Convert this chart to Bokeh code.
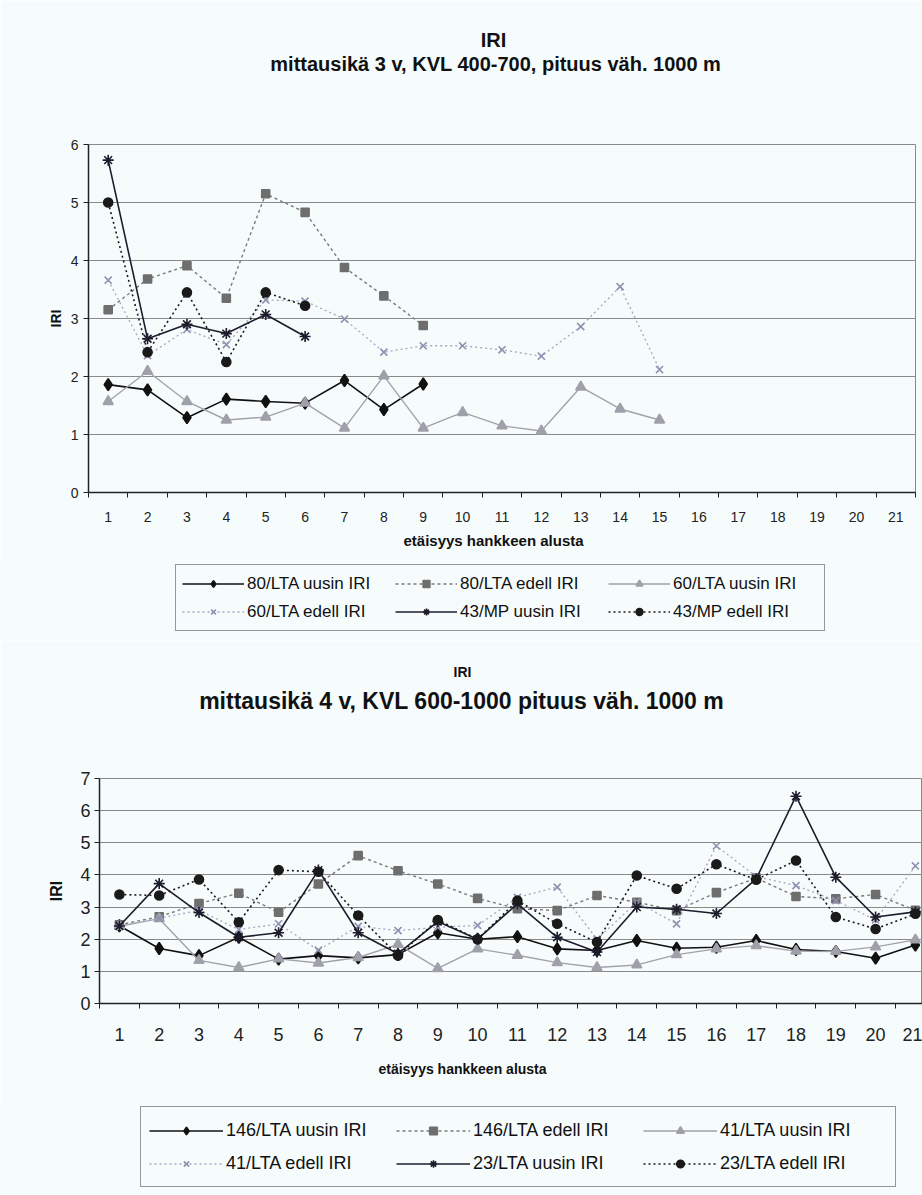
from bokeh.plotting import figure
from bokeh.models import (Legend, LegendItem, FixedTicker, Range1d,
                          ColumnDataSource, Title)
from bokeh.embed import file_html
from bokeh.resources import INLINE

# ---------------- data ----------------
categories = list(range(1, 22))

# top chart: mittausikä 3 v
top_80_uusin = [1.86, 1.77, 1.29, 1.61, 1.57, 1.54, 1.93, 1.43, 1.87]
top_80_edell = [3.15, 3.68, 3.91, 3.35, 5.15, 4.83, 3.88, 3.39, 2.88]
top_60_uusin = [1.57, 2.09, 1.57, 1.25, 1.30, 1.54, 1.11, 2.01, 1.11, 1.38, 1.15, 1.06, 1.82, 1.44, 1.25]
top_60_edell = [3.66, 2.36, 2.81, 2.55, 3.32, 3.30, 2.99, 2.42, 2.53, 2.53, 2.46, 2.35, 2.86, 3.55, 2.12]
top_43_uusin = [5.73, 2.65, 2.90, 2.74, 3.07, 2.69]
top_43_edell = [5.00, 2.42, 3.45, 2.25, 3.45, 3.22]

# bottom chart: mittausikä 4 v
bot_146_uusin = [2.42, 1.71, 1.49, 2.06, 1.38, 1.49, 1.42, 1.52, 2.20, 2.00, 2.08, 1.70, 1.65, 1.96, 1.72, 1.75, 1.96, 1.68, 1.62, 1.41, 1.82]
bot_146_edell = [2.45, 2.70, 3.11, 3.43, 2.84, 3.72, 4.60, 4.13, 3.72, 3.27, 2.95, 2.89, 3.36, 3.15, 2.89, 3.45, 3.90, 3.33, 3.26, 3.39, 2.90]
bot_41_uusin = [2.40, 2.64, 1.34, 1.12, 1.39, 1.26, 1.43, 1.84, 1.09, 1.70, 1.50, 1.27, 1.12, 1.20, 1.52, 1.70, 1.80, 1.63, 1.62, 1.76, 1.98]
bot_41_edell = [2.40, 2.65, 2.90, 2.30, 2.48, 1.66, 2.40, 2.27, 2.37, 2.43, 3.30, 3.62, 2.00, 3.15, 2.48, 4.90, 3.95, 3.67, 3.20, 2.60, 4.28]
bot_23_uusin = [2.41, 3.73, 2.83, 2.06, 2.20, 4.15, 2.20, 1.55, 2.55, 2.00, 3.10, 2.06, 1.60, 3.00, 2.93, 2.80, 3.88, 6.45, 3.93, 2.69, 2.85]
bot_23_edell = [3.39, 3.36, 3.86, 2.53, 4.15, 4.10, 2.74, 1.49, 2.60, 2.00, 3.20, 2.48, 1.91, 3.98, 3.57, 4.33, 3.85, 4.45, 2.69, 2.32, 2.79]

top_names = ["80/LTA uusin IRI", "80/LTA edell IRI", "60/LTA uusin IRI",
             "60/LTA edell IRI", "43/MP uusin IRI", "43/MP edell IRI"]
bot_names = ["146/LTA uusin IRI", "146/LTA edell IRI", "41/LTA uusin IRI",
             "41/LTA edell IRI", "23/LTA uusin IRI", "23/LTA edell IRI"]

top_title = "IRI"
top_subtitle = "mittausikä 3 v, KVL 400-700, pituus väh. 1000 m"
bot_title = "IRI"
bot_subtitle = "mittausikä 4 v, KVL 600-1000 pituus väh. 1000 m"
x_label = "etäisyys hankkeen alusta"
y_label = "IRI"

FONT = "Liberation Sans"
BG = "#f6fcfc"

# Arial-Bold advance widths (per 1000 em), used to centre titles away from the frame centre
_AB = {' ': 278, ',': 278, '-': 333, '.': 278, 'I': 278, 'K': 722, 'L': 611,
       'R': 722, 'V': 667, 'a': 556, 'e': 556, 'h': 611, 'i': 278, 'k': 556,
       'l': 278, 'm': 889, 'n': 611, 'p': 611, 's': 556, 't': 333, 'u': 611,
       'v': 556, 'y': 556, 'ä': 556}


def bold_width(text, px):
    return sum(_AB.get(c, 556) for c in text) / 1000.0 * px


# (line color, dash, marker, size, marker color, line width)
styles = [
    ("#111111", "solid", "diamond", 12, "#111111", 1.6),
    ("#7a7a7a", "3 3", "square", 8, "#6e6e6e", 1.4),
    ("#a2a2aa", "solid", "triangle", 10, "#a0a0aa", 1.4),
    ("#a6a6c0", "2 3", "x", 10, "#9090b0", 1.3),
    ("#1c1c2c", "solid", "asterisk", 11, "#1c1c2c", 1.6),
    ("#1a1a1a", "2 3", "circle", 9, "#1a1a1a", 1.6),
]


def add_series(p, xs, ys, st):
    src = ColumnDataSource(dict(x=xs, y=ys))
    lc, dash, marker, size, mc, lw = st
    ln = p.line("x", "y", source=src, line_color=lc, line_dash=dash, line_width=lw)
    sc = p.scatter("x", "y", source=src, marker=marker, size=size,
                   fill_color=mc, line_color=mc, line_width=1.6)
    return [ln, sc]


def style_axes(p, ymax, tick_font, xstand, ystand, ylab_stand, ylab_font):
    p.background_fill_color = BG
    p.border_fill_color = BG
    p.outline_line_color = "#8a8a8a"
    p.xgrid.grid_line_color = None
    p.ygrid.grid_line_color = "#8a8a8a"
    p.ygrid.grid_line_width = 1
    p.yaxis.ticker = FixedTicker(ticks=list(range(0, ymax + 1)))
    p.xaxis.ticker = FixedTicker(ticks=categories,
                                 minor_ticks=[c + 0.5 for c in range(0, 23)])
    for ax in (p.xaxis[0], p.yaxis[0]):
        ax.axis_line_color = "#222222"
        ax.axis_line_width = 1.5
        ax.major_label_text_font = FONT
        ax.major_label_text_font_size = tick_font
        ax.major_label_text_color = "#222222"
    p.xaxis.major_tick_in = 0
    p.xaxis.major_tick_out = 0
    p.xaxis.minor_tick_in = 0
    p.xaxis.minor_tick_out = 5
    p.xaxis.minor_tick_line_color = "#222222"
    p.xaxis.major_label_standoff = xstand
    p.yaxis.major_tick_in = 0
    p.yaxis.major_tick_out = 5
    p.yaxis.minor_tick_line_color = None
    p.yaxis.major_tick_line_color = "#222222"
    p.yaxis.major_label_standoff = ystand
    p.yaxis.axis_label = y_label
    p.yaxis.axis_label_text_font = FONT
    p.yaxis.axis_label_text_font_style = "bold"
    p.yaxis.axis_label_text_font_size = ylab_font
    p.yaxis.axis_label_standoff = ylab_stand
    p.yaxis.axis_label_text_color = "#111111"


def off_title(text, px, frame_left, center_x, standoff=0):
    off = center_x - bold_width(text, px) / 2.0 - frame_left
    return Title(text=text, align="left", offset=off, standoff=standoff,
                 text_font=FONT, text_font_size=f"{px}px",
                 text_font_style="bold", text_color="#111111")


def spacer(size):
    return Title(text="\u00a0", text_font_size="10px", standoff=size,
                 text_color=BG)


def legend_figure(height, names, series, x0, y0, font, gw, gh, rowh, lw, pad, sp):
    # the series are drawn far outside the visible range: only the legend shows
    f = figure(width=W, height=height, output_backend="svg", toolbar_location=None,
               x_range=Range1d(-100, -99), y_range=Range1d(-100, -99),
               x_axis_type=None, y_axis_type=None, min_border=0,
               min_border_left=0, min_border_right=0, min_border_top=0,
               min_border_bottom=0)
    f.background_fill_color = BG
    f.border_fill_color = BG
    f.outline_line_color = None
    f.grid.grid_line_color = None
    items = []
    for n, ys, st in zip(names, series, styles):
        items.append(LegendItem(label=n, renderers=add_series(f, categories[:len(ys)], ys, st)))
    leg = Legend(items=items, location=(x0, y0), orientation="horizontal",
                 ncols=3, glyph_width=gw, glyph_height=gh, label_text_font=FONT,
                 label_text_font_size=font, label_text_color="#111111",
                 label_height=rowh, label_width=lw, label_standoff=3,
                 border_line_color="#333333", border_line_width=1,
                 background_fill_color=BG, background_fill_alpha=1,
                 padding=pad, spacing=sp, margin=0)
    f.add_layout(leg, "center")
    return f


W = 922

# ---------------- top chart ----------------
H1 = 560
F1L = 88
p1 = figure(width=W, height=H1, output_backend="svg", toolbar_location=None,
            x_range=Range1d(0.5, 21.5), y_range=Range1d(0, 6),
            min_border_left=F1L, min_border_right=7, min_border_top=144,
            min_border_bottom=H1 - 492)
style_axes(p1, 6, "14px", 14, 5, 4, "14px")

top_series = [top_80_uusin, top_80_edell, top_60_uusin, top_60_edell, top_43_uusin, top_43_edell]
for ys, st in zip(top_series, styles):
    add_series(p1, categories[:len(ys)], ys, st)

p1.add_layout(spacer(57), "above")
p1.add_layout(off_title(top_subtitle, 20, F1L, 496), "above")
p1.add_layout(off_title(top_title, 20, F1L, 493), "above")
p1.add_layout(off_title(x_label, 15, F1L, 493, standoff=10), "below")

leg1 = legend_figure(80, top_names, top_series, 175, 9, "17px", 62, 17, 25, 145, 6, 3)

# ---------------- bottom chart ----------------
H2 = 460
F2L = 99
p2 = figure(width=W, height=H2, output_backend="svg", toolbar_location=None,
            x_range=Range1d(0.5, 0.5 + (W - F2L) / 39.8), y_range=Range1d(0, 7),
            min_border_left=F2L, min_border_right=0, min_border_top=138,
            min_border_bottom=H2 - 363)
style_axes(p2, 7, "18px", 19, 4, 12, "16px")

bot_series = [bot_146_uusin, bot_146_edell, bot_41_uusin, bot_41_edell, bot_23_uusin, bot_23_edell]
for ys, st in zip(bot_series, styles):
    add_series(p2, categories[:len(ys)], ys, st)

p2.add_layout(spacer(52), "above")
p2.add_layout(off_title(bot_subtitle, 23, F2L, 462), "above")
p2.add_layout(off_title(bot_title, 14, F2L, 462, standoff=12), "above")
p2.add_layout(off_title(x_label, 14, F2L, 462, standoff=30), "below")

leg2 = legend_figure(1195 - H1 - 80 - H2, bot_names, bot_series, 140, 8, "18px",
                     74, 19, 30, 167, 8, 3)

# separate roots, stacked in page order, so that each frame keeps its own borders
open("out.html", "w").write(file_html([p1, leg1, p2, leg2], INLINE))
